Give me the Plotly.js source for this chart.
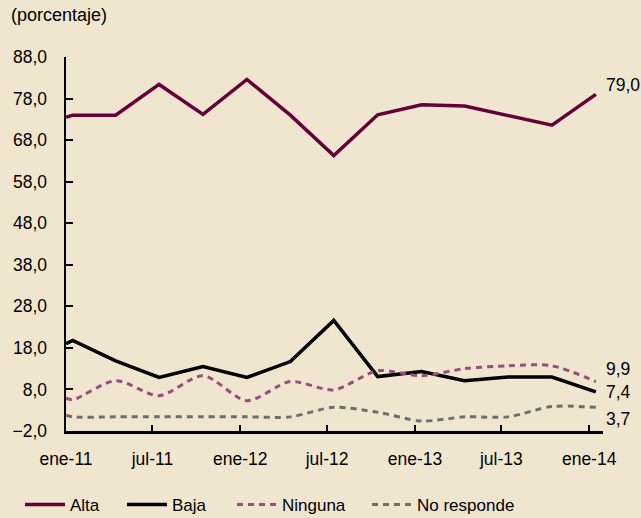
<!DOCTYPE html>
<html>
<head>
<meta charset="utf-8">
<script src="https://cdn.plot.ly/plotly-3.0.1.min.js"></script>
<style>
html,body{margin:0;padding:0;background:#f0e6d0;}
#chart{width:641px;height:518px;}
</style>
</head>
<body>
<div id="chart"></div>
<script>
const dates = ['2011-01-01','2011-01-15','2011-04-15','2011-07-15','2011-10-15','2012-01-15','2012-04-15','2012-07-15','2012-10-15','2013-01-15','2013-04-15','2013-07-15','2013-10-15','2014-01-15'];
const alta = [73.5,74.0,74.0,81.4,74.2,82.6,74.0,64.3,74.1,76.5,76.2,73.9,71.6,79.0];
const baja = [19.0,19.8,14.9,10.9,13.5,10.9,14.7,24.6,11.1,12.3,10.1,11.0,11.0,7.4];
const ninguna = [5.9,5.5,10.1,6.5,11.3,5.3,9.9,7.9,12.5,11.3,13.0,13.7,13.7,9.9];
const noResponde = [1.8,1.4,1.4,1.4,1.4,1.4,1.4,3.7,2.5,0.4,1.4,1.4,3.9,3.7];
const tickDates = ['2011-01-01','2011-07-01','2012-01-01','2012-07-01','2013-01-01','2013-07-01','2014-01-01'];
const tickLabels = ['ene-11','jul-11','ene-12','jul-12','ene-13','jul-13','ene-14'];
const yTicks = [-2,8,18,28,38,48,58,68,78,88];
const seriesNames = ['Alta','Baja','Ninguna','No responde'];
const endLabels = ['79,0','7,4','9,9','3,7'];

const BG = '#f0e6d0';
const FONT = 'Liberation Sans, Arial, sans-serif';

const series = [alta, baja, ninguna, noResponde];
const lineStyles = [
  {color: '#650038', width: 3.5},
  {color: '#000000', width: 3.5},
  {color: '#9a4c82', width: 3, dash: '6px,5px', shape: 'spline', smoothing: 0.8},
  {color: '#6e6e6e', width: 3, dash: '6px,5px', shape: 'spline', smoothing: 0.8}
];
const legendIds = ['legend','legend2','legend3','legend4'];
const legendX = [20, 122, 232, 367];

const traces = series.map((s, i) => ({
  x: dates, y: s, name: seriesNames[i], mode: 'lines',
  line: lineStyles[i], legend: legendIds[i]
}));

const last = dates.length - 1;
const shifts = [9, 0, 13, -12];
const annotations = series.map((s, i) => ({
  x: dates[last], y: s[last], xref: 'x', yref: 'y',
  text: endLabels[i], showarrow: false, xanchor: 'left', yanchor: 'middle',
  xshift: 8, yshift: shifts[i],
  font: {family: FONT, size: 17.5, color: '#000'}
}));

const layout = {
  width: 641, height: 518,
  paper_bgcolor: BG, plot_bgcolor: BG,
  separators: ',.',
  font: {family: FONT, size: 17.5, color: '#000'},
  margin: {l: 66, r: 38, t: 57, b: 87, pad: 0},
  title: {text: '(porcentaje)', x: 11/641, xanchor: 'left', xref: 'container',
          y: 0.972, yanchor: 'middle', yref: 'container',
          font: {family: FONT, size: 18, color: '#000'}},
  xaxis: {
    type: 'date', range: ['2011-01-01', '2014-01-30'],
    tickmode: 'array', tickvals: tickDates, ticktext: tickLabels,
    showgrid: false, zeroline: false,
    showline: true, linecolor: '#000', linewidth: 2.5,
    ticks: 'inside', ticklen: 6, tickwidth: 2, tickcolor: '#000',
    ticklabelstandoff: 10,
    tickfont: {family: FONT, size: 17.5, color: '#000'}
  },
  yaxis: {
    range: [-2, 88],
    tickmode: 'array', tickvals: yTicks, tickformat: '.1f',
    showgrid: false, zeroline: false,
    showline: true, linecolor: '#000', linewidth: 2.5,
    ticks: 'inside', ticklen: 7, tickwidth: 2, tickcolor: '#000',
    ticklabelstandoff: 13,
    tickfont: {family: FONT, size: 17.5, color: '#000'}
  },
  showlegend: true,
  annotations: annotations
};

legendIds.forEach((id, i) => {
  layout[id] = {
    orientation: 'h', xref: 'container', yref: 'container',
    x: legendX[i]/641, xanchor: 'left', y: 13/518, yanchor: 'middle',
    bgcolor: 'rgba(0,0,0,0)', font: {family: FONT, size: 17, color: '#000'},
    itemwidth: 40
  };
});

Plotly.newPlot('chart', traces, layout, {displayModeBar: false, staticPlot: true});
</script>
</body>
</html>
